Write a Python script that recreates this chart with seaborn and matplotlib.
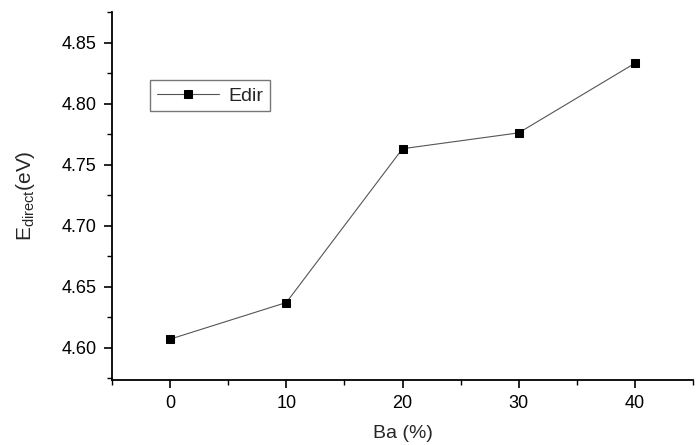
import matplotlib
matplotlib.use("Agg")
import matplotlib.pyplot as plt
import seaborn as sns
import pandas as pd
from matplotlib.ticker import MultipleLocator

ba = [0, 10, 20, 30, 40]
edir = [4.607, 4.637, 4.763, 4.776, 4.833]
series_name = "Edir"

df = pd.DataFrame({"Ba": ba, "E": edir})

sns.set_theme(style="ticks")
plt.rcParams["font.family"] = ["Liberation Sans", "DejaVu Sans"]

fig = plt.figure(figsize=(6.98, 4.45), dpi=100)
ax = fig.add_axes([0.1605, 0.146, 0.8323, 0.827])

sns.lineplot(data=df, x="Ba", y="E", ax=ax, color="#555555", linewidth=0.8,
             marker="s", markersize=6, markerfacecolor="black",
             markeredgecolor="black", label=series_name)

ax.set_xlim(-5, 45)
ax.set_ylim(4.5735, 4.875)
ax.xaxis.set_major_locator(MultipleLocator(10))
ax.xaxis.set_minor_locator(MultipleLocator(5))
ax.yaxis.set_major_locator(MultipleLocator(0.05))
ax.yaxis.set_minor_locator(MultipleLocator(0.025))
ax.yaxis.set_major_formatter(matplotlib.ticker.FormatStrFormatter("%.2f"))

sns.despine(ax=ax)
for s in ["left", "bottom"]:
    ax.spines[s].set_linewidth(1.3)
    ax.spines[s].set_color("black")
ax.tick_params(which="major", direction="out", length=6, width=1.2, labelsize=13,
               colors="black", pad=5)
ax.tick_params(which="minor", direction="out", length=3.5, width=1.0, colors="black")

ax.set_xlabel("Ba (%)", fontsize=14, labelpad=9)
ax.set_ylabel(r"E$_{\mathregular{direct}}$(eV)", fontsize=15, labelpad=18)

leg = ax.legend(loc="upper left", bbox_to_anchor=(0.065, 0.815), borderaxespad=0,
                fancybox=False, edgecolor="#777777", framealpha=1, fontsize=14,
                handlelength=3.2, borderpad=0.35, handletextpad=0.5)
leg.get_frame().set_linewidth(1.0)

fig.savefig("out.png", dpi=100)
